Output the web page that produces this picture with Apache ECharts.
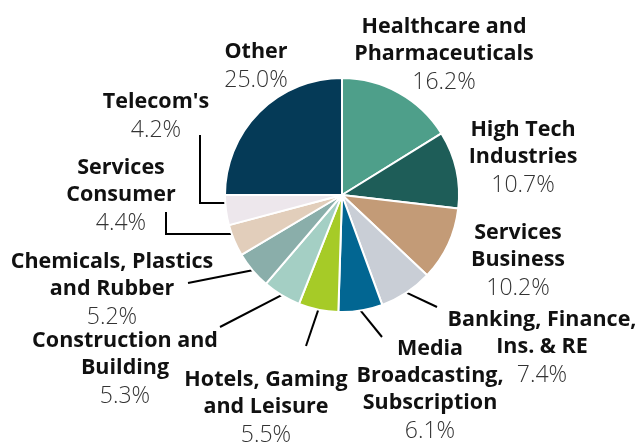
<!DOCTYPE html>
<html><head><meta charset="utf-8">
<script src="https://cdn.jsdelivr.net/npm/echarts@6/dist/echarts.min.js"></script>
<style>html,body{margin:0;background:#fff}#c{width:640px;height:446px}</style>
</head><body><div id="c"></div>
<script>
const categories = ['Healthcare and\nPharmaceuticals', 'High Tech\nIndustries', 'Services\nBusiness', 'Banking, Finance,\nIns. & RE', 'Media\nBroadcasting,\nSubscription', 'Hotels, Gaming\nand Leisure', 'Construction and\nBuilding', 'Chemicals, Plastics\nand Rubber', 'Services\nConsumer', "Telecom's", 'Other'];
const shares = [16.2, 10.7, 10.2, 7.4, 6.1, 5.5, 5.3, 5.2, 4.4, 4.2, 25.0];
const colors = ['#4e9f8a', '#1e5d58', '#c39b77', '#c9ced6', '#026692', '#a6cb27', '#a4cfc4', '#8aaeaa', '#e2cebb', '#ede7ec', '#053a57'];

// layout (pixels)
const CX = 342, CY = 195, R = 117;
const labelPos = [[444, 13], [523, 116], [518, 219], [542, 306], [430, 335], [266, 366], [125, 327], [112, 248], [121, 154], [156, 88], [256, 38]];
const leaders = [null, null, null, {end: [437, 307]}, {end: [382, 337]}, {end: [306, 346]}, {end: [220, 327]}, {end: [188, 283]}, {elbow: [166, 234, 212]}, {elbow: [200, 203, 135]}, null];

const total = shares.reduce((a, b) => a + b, 0);
function edgePoint(i) {
  let before = 0;
  for (let k = 0; k < i; k++) before += shares[k];
  const f = (before + shares[i] / 2) / total;
  const a = f * 2 * Math.PI;
  return [CX + R * Math.sin(a), CY - R * Math.cos(a)];
}

const chart = echarts.init(document.getElementById('c'), null, {renderer: 'canvas'});
chart.setOption({
  animation: false,
  series: [{
    type: 'pie',
    center: [CX, CY],
    radius: R,
    startAngle: 90,
    clockwise: true,
    avoidLabelOverlap: false,
    emphasis: {disabled: true},
    itemStyle: {borderColor: '#fff', borderWidth: 2},
    label: {
      show: true,
      position: 'outside',
      formatter: p => p.name.split('\n').map(s => '{n|' + s + '}').join('\n') + '\n{v|' + p.value.toFixed(1) + '%}',
      rich: {
        n: {fontFamily: 'Open Sans', fontWeight: 'bold', fontSize: 21.5, lineHeight: 27, color: '#111', align: 'center'},
        v: {fontFamily: 'Open Sans', fontWeight: 300, fontSize: 23, lineHeight: 31, color: '#333', align: 'center'}
      }
    },
    labelLine: {show: true, lineStyle: {color: '#000', width: 2}},
    labelLayout: function (p) {
      const i = p.dataIndex;
      const out = {x: labelPos[i][0], y: labelPos[i][1], align: 'center', verticalAlign: 'top'};
      const L = leaders[i];
      if (L && L.end) {
        const s = edgePoint(i);
        out.labelLinePoints = [s, s, L.end];
      } else if (L && L.elbow) {
        const vy = L.elbow[1];
        const sx = CX - Math.sqrt(R * R - (vy - CY) * (vy - CY));
        out.labelLinePoints = [[sx, vy], [L.elbow[0], vy], [L.elbow[0], L.elbow[2]]];
      }
      return out;
    },
    data: categories.map((c, i) => ({
      name: c,
      value: shares[i],
      itemStyle: {color: colors[i]},
      labelLine: {show: !!leaders[i]}
    }))
  }]
});
</script>
</body></html>
